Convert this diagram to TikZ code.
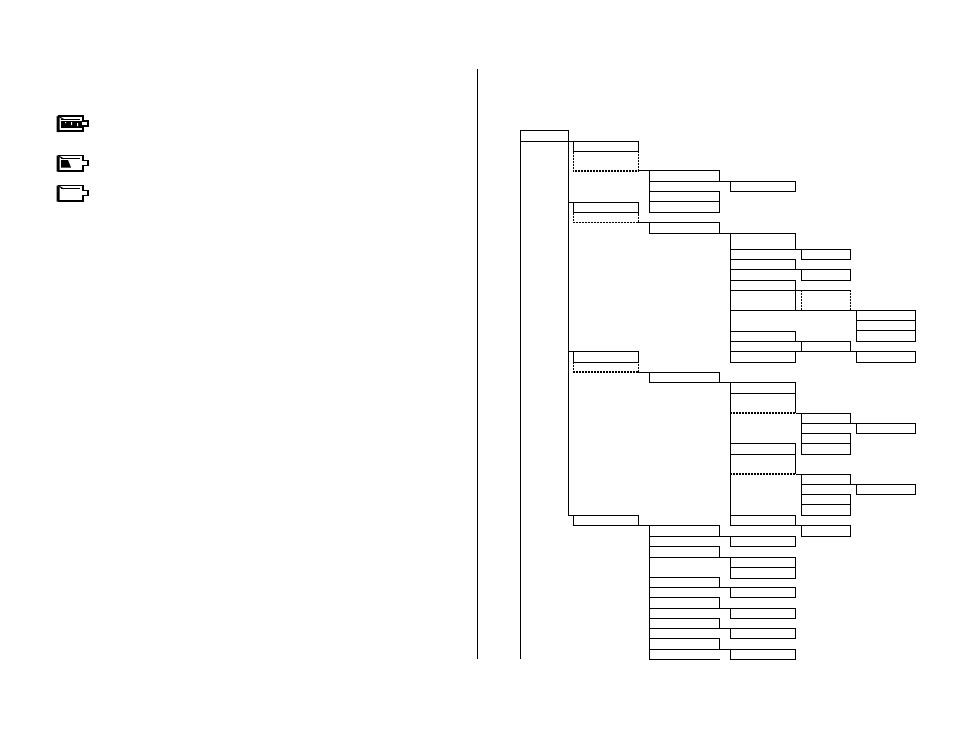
\documentclass[tikz,border=0pt]{standalone}
\usetikzlibrary{positioning}
\tikzset{
  cell/.style={rectangle, draw=black, line width=1pt, inner sep=0pt, outer sep=0pt, minimum height=10.27pt},
  cellA/.style={cell, minimum width=65pt},
  cellB/.style={cell, minimum width=70.4pt},
  cellC/.style={cell, minimum width=65.4pt},
  cellD/.style={cell, minimum width=49.4pt},
  cellE/.style={cell, minimum width=59.4pt},
  tallrow/.style={minimum height=11pt},
  bare/.style={draw=none},
  link/.style={line width=1pt},
  dots/.style={line width=1.3pt, dash pattern=on 2pt off 1pt},
  faintdots/.style={line width=0.8pt, dash pattern=on 2pt off 1pt},
  battery/.pic={
    \draw[line width=1.8pt] (1,0.9) -- (26.5,0.9) -- (26.5,6) -- (31.4,6) -- (31.4,11) -- (26.5,11) -- (26.5,16.1) -- (1,16.1);
    \fill (0,1) -- (3,2.5) -- (3,17) -- (0,17) -- cycle;
    \draw[line width=1pt] (1,0.9) -- (7,4.4);
    \draw[line width=1pt] (4,4.4) -- (23,4.4);
  },
}

\begin{document}
\begin{tikzpicture}[x=1pt, y=-1pt]
  \useasboundingbox (0,0) rectangle (954,737);

  % Battery icons
  \pic at (56.7,115) {battery};
  \fill (61,120.5) rectangle (82,128);
  \fill[white] (65,122) rectangle (66,123) (71,122) rectangle (72,125) (77,123) rectangle (78,126);
  \pic at (56.7,154.5) {battery};
  \fill (61,160) -- (68,160) -- (71,167.5) -- (61,167.5) -- cycle;
  \pic at (56.7,184.5) {battery};

  % Divider and root
  \coordinate (divtop) at (477.3,69);
  \coordinate (divend) at (477.3,659.3);
  \draw[link] (divtop) -- (divend);
  \node[cell, anchor=north west, minimum width=48pt, tallrow] (root) at (520.3,130.3) {};
  \coordinate (rootend) at (520.3,659.3);
  \draw[link] (root.south west) -- (rootend);

  % First column
  \node[cellA, anchor=north west] (a1) at (573.3,141.3) {};
  \node[cellA, bare, below=0pt of a1, minimum height=19.4pt] (a1d) {};
  \node[cellA, anchor=north west] (a2) at (573.3,202.3) {};
  \node[cellA, bare, below=0pt of a2, minimum height=9.8pt] (a2d) {};
  \node[cellA, anchor=north west, tallrow] (a3) at (573.3,351.3) {};
  \node[cellA, bare, below=0pt of a3, minimum height=9.8pt] (a3d) {};
  \node[cellA, anchor=north west] (a4) at (573.3,515.3) {};

  \draw[link] (a1.north west) -- (a1.north west -| root.east);
  \draw[link] (a2.north west) -- (a2.north west -| root.east);
  \draw[link] (a3.north west) -- (a3.north west -| root.east);
  \draw[link] (root.south east) |- (a4.north west);
  \draw[dots] (a1d.north west) -- (a1d.south west) -- (a1d.south east) -- (a1d.north east);
  \draw[faintdots] (a2d.north west) -- (a2d.south west) -- (a2d.south east) -- (a2d.north east);
  \draw[dots] (a3d.north west) -- (a3d.south west) -- (a3d.south east) -- (a3d.north east);

  % Second column, upper block
  \node[cellB, anchor=north west] (b1) at ([xshift=11pt]a1d.south east) {};
  \node[cellB, bare, below=0pt of b1] (b2) {};
  \node[cellB, below=0pt of b2] (b3) {};
  \node[cellB, below=0pt of b3] (b4) {};
  \node[cellC, anchor=north west] (c1) at ([xshift=10.6pt]b1.south east) {};
  \draw[link] (a1d.south east) -- (b1.north west);
  \draw[link] (b1.south east) -- (c1.north west);

  % Block under the second entry
  \node[cellB, anchor=north west, tallrow] (b5) at ([xshift=11pt]a2d.south east) {};
  \draw[link] (a2d.south east) -- (b5.north west);
  \node[cellC, anchor=north west, minimum height=16pt] (c2) at ([xshift=10.6pt]b5.south east) {};
  \node[cellC, bare, below=0pt of c2] (c3) {};
  \node[cellC, below=0pt of c3] (c4) {};
  \node[cellC, bare, below=0pt of c4] (c5) {};
  \node[cellC, below=0pt of c5] (c6) {};
  \node[cellC, below=0pt of c6, minimum height=20pt] (c7) {};
  \node[cellC, below=20.6pt of c7] (c9) {};
  \node[cellC, bare, below=0pt of c9] (c10) {};
  \node[cellC, below=0pt of c10, tallrow] (c11) {};
  \draw[link] (b5.south east) -- (c2.north west);
  \draw[link] (c7.south west) -- (c9.north west);

  \node[cellD, anchor=north west] (d1) at ([xshift=5.6pt]c2.south east) {};
  \node[cellD, anchor=north west] (d2) at ([xshift=5.6pt]c4.south east) {};
  \node[cellD, bare, anchor=north west, minimum height=20pt] (d3) at ([xshift=5.6pt]c6.south east) {};
  \node[cellD, anchor=north west] (d5) at ([xshift=5.6pt]c9.south east) {};
  \node[cellE, anchor=north west] (e1) at ([xshift=5.6pt]d3.south east) {};
  \node[cellE, below=0pt of e1] (e2) {};
  \node[cellE, below=0pt of e2] (e3) {};
  \node[cellE, anchor=north west, tallrow] (e4) at ([xshift=5.6pt]d5.south east) {};
  \draw[link] (c2.south east) -- (d1.north west);
  \draw[link] (c4.south east) -- (d2.north west);
  \draw[link] (c6.south east) -- (d3.north east);
  \draw[link] (c7.south east) -- (e1.north west);
  \draw[link] (c9.south east) -- (d5.north west);
  \draw[link] (c10.south east) -- (e4.north west);
  \draw[dots] (d3.north west) -- (d3.south west);
  \draw[dots] (d3.north east) -- (d3.south east);

  % Block under the third entry
  \node[cellB, anchor=north west] (b6) at ([xshift=11pt]a3d.south east) {};
  \draw[link] (a3d.south east) -- (b6.north west);
  \node[cellC, anchor=north west, tallrow] (c12) at ([xshift=10.6pt]b6.south east) {};
  \node[cellC, bare, below=0pt of c12, minimum height=19.7pt] (c13) {};
  \node[cellC, anchor=north west, tallrow] (c14) at (730.3,443.3) {};
  \node[cellC, bare, below=0pt of c14, minimum height=19.7pt] (c15) {};
  \node[cellC, anchor=north west] (c16) at (730.3,515.3) {};
  \draw[link] (b6.south east) -- (c12.north west);
  \draw[link] (c12.north west) -- (c16.south west);
  \draw[link] (c13.north east) -- (c13.south east);
  \draw[link] (c15.north east) -- (c15.south east);
  \draw[dots] (c13.south west) -- (c13.south east);
  \draw[dots] (c15.south west) -- (c15.south east);

  \node[cellD, anchor=north west] (d6) at ([xshift=5.6pt]c13.south east) {};
  \node[cellD, bare, below=0pt of d6] (d7) {};
  \node[cellD, below=0pt of d7] (d8) {};
  \node[cellD, below=0pt of d8, tallrow] (d9) {};
  \node[cellE, anchor=north west] (e5) at ([xshift=5.6pt]d6.south east) {};
  \node[cellD, anchor=north west] (d10) at ([xshift=5.6pt]c15.south east) {};
  \node[cellD, bare, below=0pt of d10] (d11) {};
  \node[cellD, below=0pt of d11] (d12) {};
  \node[cellD, below=0pt of d12, tallrow] (d13) {};
  \node[cellE, anchor=north west] (e6) at ([xshift=5.6pt]d10.south east) {};
  \node[cellD, anchor=north west, tallrow] (d14) at ([xshift=5.6pt]c16.south east) {};
  \draw[link] (c13.south east) -- (d6.north west);
  \draw[link] (d6.south east) -- (e5.north west);
  \draw[link] (c15.south east) -- (d10.north west);
  \draw[link] (d10.south east) -- (e6.north west);
  \draw[link] (c16.south east) -- (d14.north west);

  % Block under the last entry
  \node[cellB, anchor=north west, tallrow] (b7) at ([xshift=11pt]a4.south east) {};
  \node[cellB, bare, below=0pt of b7] (b8) {};
  \node[cellB, below=0pt of b8] (b9) {};
  \node[cellB, anchor=north west] (b11) at (649.3,577.3) {};
  \node[cellB, bare, below=0pt of b11] (b12) {};
  \node[cellB, below=0pt of b12] (b13) {};
  \node[cellB, bare, below=0pt of b13] (b14) {};
  \node[cellB, below=0pt of b14] (b15) {};
  \node[cellB, bare, below=0pt of b15] (b16) {};
  \node[cellB, below=0pt of b16] (b17) {};
  \node[cellB, bare, below=0pt of b17] (b18) {};
  \draw[link] (a4.south east) -- (b7.north west);
  \draw[link] (b9.south west) -- (b11.north west);

  \node[cellC, anchor=north west] (c17) at ([xshift=10.6pt]b7.south east) {};
  \node[cellC, anchor=north west] (c18) at ([xshift=10.6pt]b9.south east) {};
  \node[cellC, below=0pt of c18, tallrow] (c19) {};
  \node[cellC, anchor=north west] (c20) at ([xshift=10.6pt]b11.south east) {};
  \node[cellC, anchor=north west] (c21) at ([xshift=10.6pt]b13.south east) {};
  \node[cellC, anchor=north west] (c22) at ([xshift=10.6pt]b15.south east) {};
  \node[cellC, anchor=north west] (c23) at ([xshift=10.6pt]b17.south east) {};
  \draw[link] (b7.south east) -- (c17.north west);
  \draw[link] (b9.south east) -- (c18.north west);
  \draw[link] (b11.south east) -- (c20.north west);
  \draw[link] (b13.south east) -- (c21.north west);
  \draw[link] (b15.south east) -- (c22.north west);
  \draw[link] (b17.south east) -- (c23.north west);

  % Rows that stay open on the right
  \foreach \n in {b2,c3,c5,c10,d7,d11,b8,b12,b14,b16,b18}
    \draw[link] (\n.north east) -- (\n.north west) -- (\n.south west) -- (\n.south east);
\end{tikzpicture}
\end{document}
